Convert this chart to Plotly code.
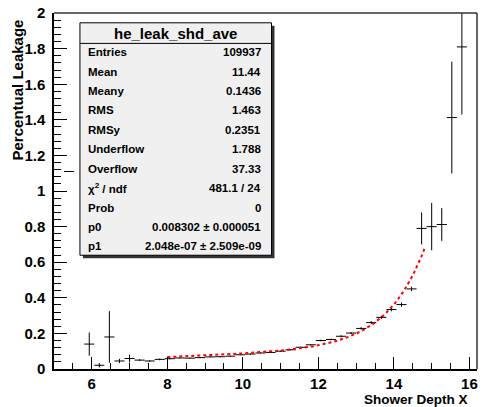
import numpy as np
import plotly.graph_objects as go

# Profile histogram: 42 bins from 5.0 to 16.2 in shower depth
bin_lo, bin_hi, n_bins = 5.0, 16.2, 42
leakage = [None, 1.11, None, 0.14, 0.021, 0.18, 0.045, 0.059, 0.050, 0.045,
           0.054, 0.058, 0.062, 0.061, 0.064, 0.068, 0.069, 0.072, 0.080, 0.084,
           0.090, 0.093, 0.100, 0.108, 0.122, 0.136, 0.160, 0.166, 0.184, 0.202,
           0.228, 0.261, 0.290, 0.334, 0.362, 0.450, 0.790, 0.800, 0.812, 1.413,
           1.810, None]
leakage_err = [None, 0.0, None, 0.065, 0.012, 0.145, 0.012, 0.022, 0.005, 0.004,
               0.005, 0.004, 0.003, 0.003, 0.003, 0.003, 0.003, 0.003, 0.003, 0.003,
               0.003, 0.003, 0.003, 0.003, 0.004, 0.004, 0.005, 0.005, 0.006, 0.006,
               0.007, 0.008, 0.009, 0.010, 0.012, 0.012, 0.090, 0.133, 0.092, 0.314,
               0.380, None]

# Fit p0*x + p1*exp(x) over the fit range
p0, p1 = 0.008302, 2.048e-07
fit_lo, fit_hi = 8.0, 14.83

stats_labels = ["Entries", "Mean", "Meany", "RMS", "RMSy", "Underflow", "Overflow",
                "χ<sup>2</sup> / ndf", "Prob", "p0", "p1"]
stats_values = ["109937", "11.44", "0.1436", "1.463", "0.2351", "1.788", "37.33",
                "481.1 / 24", "0", "0.008302 ± 0.000051", "2.048e-07 ± 2.509e-09"]
hist_name = "he_leak_shd_ave"

edges = np.linspace(bin_lo, bin_hi, n_bins + 1)
centers = 0.5 * (edges[:-1] + edges[1:])
half_w = 0.5 * (edges[1] - edges[0])

xs, ys, es = [], [], []
for c, v, e in zip(centers, leakage, leakage_err):
    if v is not None:
        xs.append(c); ys.append(v); es.append(e)

FONT = "Liberation Sans"
W, H = 482, 407
ML, MR, MT, MB = 54, 4, 6, 38
PW, PH = W - ML - MR, H - MT - MB


def px(xp):
    return (xp - ML) / PW


def py(yp):
    return (H - MB - yp) / PH


def bold(size):
    return dict(family=FONT, size=size, color="black", weight="bold")


fig = go.Figure()
fig.add_trace(go.Scatter(
    x=xs, y=ys, mode="markers",
    marker=dict(size=1, color="rgba(0,0,0,0)"),
    error_x=dict(type="constant", value=half_w, width=0, thickness=1, color="black"),
    error_y=dict(type="data", array=es, width=0, thickness=1, color="black"),
    hoverinfo="skip",
))

fx = np.linspace(fit_lo, fit_hi, 200)
fy = p0 * fx + p1 * np.exp(fx)
fig.add_trace(go.Scatter(x=fx, y=fy, mode="lines",
                         line=dict(color="red", width=2, dash="3px,3px"),
                         hoverinfo="skip"))

y_ticks = [0, 0.2, 0.4, 0.6, 0.8, 1.0, 1.2, 1.4, 1.6, 1.8, 2.0]
y_text = ["0", "0.2", "0.4", "0.6", "0.8", "1", "1.2", "1.4", "1.6", "1.8", "2"]
x_ticks = [6, 8, 10, 12, 14, 16]

fig.update_xaxes(range=[bin_lo, bin_hi], tickvals=x_ticks, ticktext=[str(t) for t in x_ticks],
                 ticks="inside", ticklen=12, tickwidth=1, tickcolor="black",
                 minor=dict(ticks="inside", ticklen=6, dtick=0.5, tick0=5, tickcolor="black"),
                 showline=True, linecolor="black", linewidth=1.5, showgrid=False,
                 zeroline=False, tickfont=bold(15), ticklabelstandoff=0,
                 ticklabeloverflow="allow")
fig.update_yaxes(range=[0, 2.0005], tickvals=y_ticks, ticktext=y_text,
                 ticks="inside", ticklen=13, tickwidth=1, tickcolor="black",
                 minor=dict(ticks="inside", ticklen=7, dtick=0.04, tick0=0, tickcolor="black"),
                 showline=True, linecolor="black", linewidth=1.5, showgrid=False,
                 zeroline=False, tickfont=bold(15), ticklabelstandoff=4,
                 ticklabeloverflow="allow")

shapes = [
    # top and right frame edges
    dict(type="line", xref="paper", yref="paper", x0=0, x1=1, y0=1, y1=1,
         line=dict(color="#333", width=1.5)),
    dict(type="line", xref="paper", yref="paper", x0=1, x1=1, y0=0, y1=1,
         line=dict(color="#333", width=1.5)),
    # stats box shadow, box, header separator
    dict(type="rect", xref="paper", yref="paper", x0=px(83), x1=px(275), y0=py(256), y1=py(19),
         fillcolor="#333", line=dict(width=0), layer="above"),
    dict(type="rect", xref="paper", yref="paper", x0=px(80), x1=px(272), y0=py(253), y1=py(16),
         fillcolor="#f0f0f0", line=dict(color="black", width=1), layer="above"),
    dict(type="line", xref="paper", yref="paper", x0=px(80), x1=px(272), y0=py(37), y1=py(37),
         line=dict(color="black", width=1), layer="above"),
]

ann = [
    dict(text=hist_name, x=px(176), y=py(27), xanchor="center", yanchor="middle", font=bold(15)),
    dict(text="Shower Depth X", x=px(471), y=py(400), xanchor="right", yanchor="middle",
         font=bold(13.5)),
    dict(text="Percentual Leakage", x=px(17), y=py(11), xanchor="center", yanchor="top",
         textangle=-90, font=bold(15)),
]
for i, (lab, val) in enumerate(zip(stats_labels, stats_values)):
    yy = 46 + 19.8 * i
    ann.append(dict(text=lab, x=px(86), y=py(yy), xanchor="left", yanchor="middle",
                    font=bold(11.5)))
    ann.append(dict(text=val, x=px(263), y=py(yy), xanchor="right", yanchor="middle",
                    font=bold(11.5)))
for a in ann:
    a.update(xref="paper", yref="paper", showarrow=False)

fig.update_layout(width=W, height=H, margin=dict(l=ML, r=MR, t=MT, b=MB),
                  paper_bgcolor="white", plot_bgcolor="white", showlegend=False,
                  shapes=shapes, annotations=ann)

fig.write_html("out.html")
